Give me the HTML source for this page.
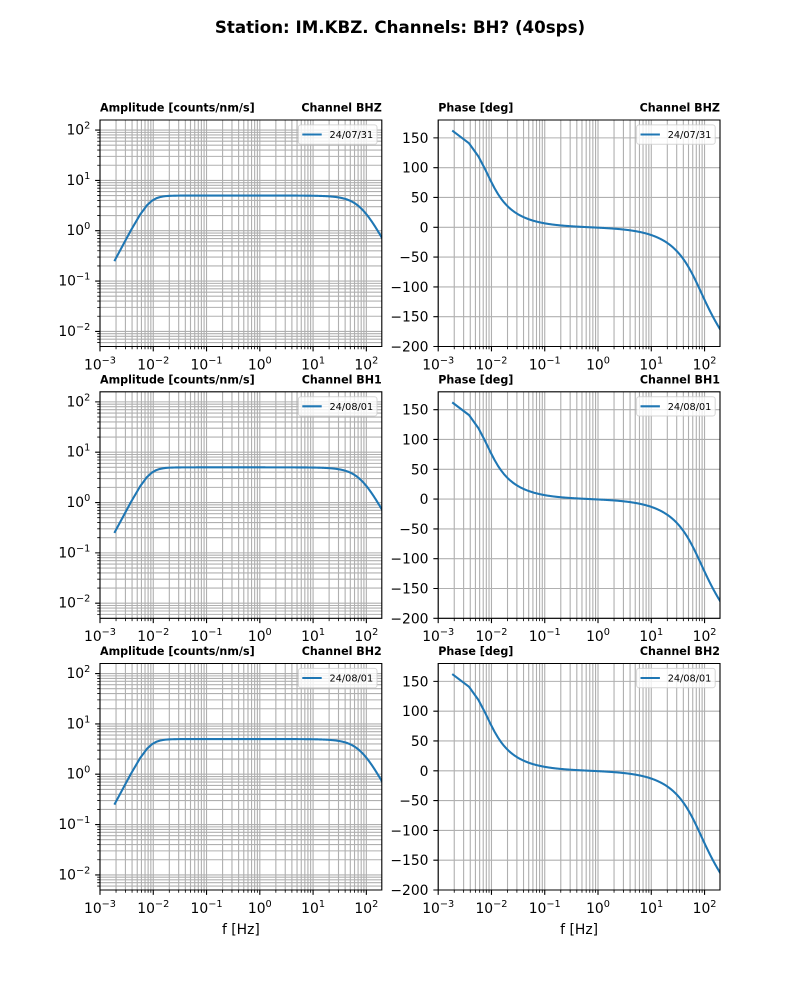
<!DOCTYPE html>
<html><head><meta charset="utf-8">
<style>
html,body{margin:0;padding:0;background:#fff;}
svg{display:block;}
text{font-family:"DejaVu Sans","Liberation Sans",sans-serif;fill:#000;}
.t{font-size:13.89px;}
.b{font-weight:bold;font-size:11.11px;}
.lg{font-size:9.72px;}
</style></head><body>
<svg id="fig" xmlns="http://www.w3.org/2000/svg" width="800" height="1000" viewBox="0 0 800 1000">
<rect width="800" height="1000" fill="#fff"/>
<defs id="defs"></defs>
<g id="grid"></g>
<g id="curves"></g>
<g id="axes"></g>
<text x="400" y="33" text-anchor="middle" font-weight="bold" font-size="16.67">Station: IM.KBZ. Channels: BH? (40sps)</text>

<!-- ROW 1 -->
<g transform="translate(0,0)">
<rect x="298.4" y="124.9" width="78.6" height="19.3" rx="2.5" fill="#fff" fill-opacity="0.8" stroke="#ccc" stroke-opacity="0.8" stroke-width="1"/>
<line x1="302.3" y1="134.5" x2="321.7" y2="134.5" stroke="#1f77b4" stroke-width="2.08"/>
<text class="lg" x="329.5" y="138">24/07/31</text>
<rect x="636.6" y="124.9" width="78.6" height="19.3" rx="2.5" fill="#fff" fill-opacity="0.8" stroke="#ccc" stroke-opacity="0.8" stroke-width="1"/>
<line x1="640.5" y1="134.5" x2="659.9" y2="134.5" stroke="#1f77b4" stroke-width="2.08"/>
<text class="lg" x="667.7" y="138">24/07/31</text>
<text class="b" x="100" y="111.7">Amplitude [counts/nm/s]</text>
<text class="b" x="381.8" y="111.7" text-anchor="end">Channel BHZ</text>
<text class="b" x="438.2" y="111.7">Phase [deg]</text>
<text class="b" x="720" y="111.7" text-anchor="end">Channel BHZ</text>
<g class="t" text-anchor="end">
<text x="90.3" y="134.6">10<tspan dy="-6" font-size="9.72">2</tspan></text>
<text x="90.3" y="184.9">10<tspan dy="-6" font-size="9.72">1</tspan></text>
<text x="90.3" y="235.2">10<tspan dy="-6" font-size="9.72">0</tspan></text>
<text x="90.3" y="285.6">10<tspan dy="-6" font-size="9.72">−1</tspan></text>
<text x="90.3" y="335.9">10<tspan dy="-6" font-size="9.72">−2</tspan></text>
<text x="428.5" y="142.9">150</text>
<text x="428.5" y="172.7">100</text>
<text x="428.5" y="202.5">50</text>
<text x="428.5" y="232.3">0</text>
<text x="428.5" y="262.1">−50</text>
<text x="428.5" y="291.9">−100</text>
<text x="428.5" y="321.7">−150</text>
<text x="428.5" y="351.5">−200</text>
</g>
<g class="t" text-anchor="middle">
<text x="100" y="369.3">10<tspan dy="-6" font-size="9.72">−3</tspan></text>
<text x="153.27" y="369.3">10<tspan dy="-6" font-size="9.72">−2</tspan></text>
<text x="206.54" y="369.3">10<tspan dy="-6" font-size="9.72">−1</tspan></text>
<text x="259.81" y="369.3">10<tspan dy="-6" font-size="9.72">0</tspan></text>
<text x="313.08" y="369.3">10<tspan dy="-6" font-size="9.72">1</tspan></text>
<text x="366.35" y="369.3">10<tspan dy="-6" font-size="9.72">2</tspan></text>
<text x="438.2" y="369.3">10<tspan dy="-6" font-size="9.72">−3</tspan></text>
<text x="491.47" y="369.3">10<tspan dy="-6" font-size="9.72">−2</tspan></text>
<text x="544.74" y="369.3">10<tspan dy="-6" font-size="9.72">−1</tspan></text>
<text x="598.01" y="369.3">10<tspan dy="-6" font-size="9.72">0</tspan></text>
<text x="651.28" y="369.3">10<tspan dy="-6" font-size="9.72">1</tspan></text>
<text x="704.55" y="369.3">10<tspan dy="-6" font-size="9.72">2</tspan></text>
</g>
</g>

<!-- ROW 2 -->
<g transform="translate(0,271.8)">
<rect x="298.4" y="124.9" width="78.6" height="19.3" rx="2.5" fill="#fff" fill-opacity="0.8" stroke="#ccc" stroke-opacity="0.8" stroke-width="1"/>
<line x1="302.3" y1="134.5" x2="321.7" y2="134.5" stroke="#1f77b4" stroke-width="2.08"/>
<text class="lg" x="329.5" y="138">24/08/01</text>
<rect x="636.6" y="124.9" width="78.6" height="19.3" rx="2.5" fill="#fff" fill-opacity="0.8" stroke="#ccc" stroke-opacity="0.8" stroke-width="1"/>
<line x1="640.5" y1="134.5" x2="659.9" y2="134.5" stroke="#1f77b4" stroke-width="2.08"/>
<text class="lg" x="667.7" y="138">24/08/01</text>
<text class="b" x="100" y="111.7">Amplitude [counts/nm/s]</text>
<text class="b" x="381.8" y="111.7" text-anchor="end">Channel BH1</text>
<text class="b" x="438.2" y="111.7">Phase [deg]</text>
<text class="b" x="720" y="111.7" text-anchor="end">Channel BH1</text>
<g class="t" text-anchor="end">
<text x="90.3" y="134.6">10<tspan dy="-6" font-size="9.72">2</tspan></text>
<text x="90.3" y="184.9">10<tspan dy="-6" font-size="9.72">1</tspan></text>
<text x="90.3" y="235.2">10<tspan dy="-6" font-size="9.72">0</tspan></text>
<text x="90.3" y="285.6">10<tspan dy="-6" font-size="9.72">−1</tspan></text>
<text x="90.3" y="335.9">10<tspan dy="-6" font-size="9.72">−2</tspan></text>
<text x="428.5" y="142.9">150</text>
<text x="428.5" y="172.7">100</text>
<text x="428.5" y="202.5">50</text>
<text x="428.5" y="232.3">0</text>
<text x="428.5" y="262.1">−50</text>
<text x="428.5" y="291.9">−100</text>
<text x="428.5" y="321.7">−150</text>
<text x="428.5" y="351.5">−200</text>
</g>
<g class="t" text-anchor="middle">
<text x="100" y="369.3">10<tspan dy="-6" font-size="9.72">−3</tspan></text>
<text x="153.27" y="369.3">10<tspan dy="-6" font-size="9.72">−2</tspan></text>
<text x="206.54" y="369.3">10<tspan dy="-6" font-size="9.72">−1</tspan></text>
<text x="259.81" y="369.3">10<tspan dy="-6" font-size="9.72">0</tspan></text>
<text x="313.08" y="369.3">10<tspan dy="-6" font-size="9.72">1</tspan></text>
<text x="366.35" y="369.3">10<tspan dy="-6" font-size="9.72">2</tspan></text>
<text x="438.2" y="369.3">10<tspan dy="-6" font-size="9.72">−3</tspan></text>
<text x="491.47" y="369.3">10<tspan dy="-6" font-size="9.72">−2</tspan></text>
<text x="544.74" y="369.3">10<tspan dy="-6" font-size="9.72">−1</tspan></text>
<text x="598.01" y="369.3">10<tspan dy="-6" font-size="9.72">0</tspan></text>
<text x="651.28" y="369.3">10<tspan dy="-6" font-size="9.72">1</tspan></text>
<text x="704.55" y="369.3">10<tspan dy="-6" font-size="9.72">2</tspan></text>
</g>
</g>

<!-- ROW 3 -->
<g transform="translate(0,543.5)">
<rect x="298.4" y="124.9" width="78.6" height="19.3" rx="2.5" fill="#fff" fill-opacity="0.8" stroke="#ccc" stroke-opacity="0.8" stroke-width="1"/>
<line x1="302.3" y1="134.5" x2="321.7" y2="134.5" stroke="#1f77b4" stroke-width="2.08"/>
<text class="lg" x="329.5" y="138">24/08/01</text>
<rect x="636.6" y="124.9" width="78.6" height="19.3" rx="2.5" fill="#fff" fill-opacity="0.8" stroke="#ccc" stroke-opacity="0.8" stroke-width="1"/>
<line x1="640.5" y1="134.5" x2="659.9" y2="134.5" stroke="#1f77b4" stroke-width="2.08"/>
<text class="lg" x="667.7" y="138">24/08/01</text>
<text class="b" x="100" y="111.7">Amplitude [counts/nm/s]</text>
<text class="b" x="381.8" y="111.7" text-anchor="end">Channel BH2</text>
<text class="b" x="438.2" y="111.7">Phase [deg]</text>
<text class="b" x="720" y="111.7" text-anchor="end">Channel BH2</text>
<g class="t" text-anchor="end">
<text x="90.3" y="134.6">10<tspan dy="-6" font-size="9.72">2</tspan></text>
<text x="90.3" y="184.9">10<tspan dy="-6" font-size="9.72">1</tspan></text>
<text x="90.3" y="235.2">10<tspan dy="-6" font-size="9.72">0</tspan></text>
<text x="90.3" y="285.6">10<tspan dy="-6" font-size="9.72">−1</tspan></text>
<text x="90.3" y="335.9">10<tspan dy="-6" font-size="9.72">−2</tspan></text>
<text x="428.5" y="142.9">150</text>
<text x="428.5" y="172.7">100</text>
<text x="428.5" y="202.5">50</text>
<text x="428.5" y="232.3">0</text>
<text x="428.5" y="262.1">−50</text>
<text x="428.5" y="291.9">−100</text>
<text x="428.5" y="321.7">−150</text>
<text x="428.5" y="351.5">−200</text>
</g>
<g class="t" text-anchor="middle">
<text x="100" y="369.3">10<tspan dy="-6" font-size="9.72">−3</tspan></text>
<text x="153.27" y="369.3">10<tspan dy="-6" font-size="9.72">−2</tspan></text>
<text x="206.54" y="369.3">10<tspan dy="-6" font-size="9.72">−1</tspan></text>
<text x="259.81" y="369.3">10<tspan dy="-6" font-size="9.72">0</tspan></text>
<text x="313.08" y="369.3">10<tspan dy="-6" font-size="9.72">1</tspan></text>
<text x="366.35" y="369.3">10<tspan dy="-6" font-size="9.72">2</tspan></text>
<text x="438.2" y="369.3">10<tspan dy="-6" font-size="9.72">−3</tspan></text>
<text x="491.47" y="369.3">10<tspan dy="-6" font-size="9.72">−2</tspan></text>
<text x="544.74" y="369.3">10<tspan dy="-6" font-size="9.72">−1</tspan></text>
<text x="598.01" y="369.3">10<tspan dy="-6" font-size="9.72">0</tspan></text>
<text x="651.28" y="369.3">10<tspan dy="-6" font-size="9.72">1</tspan></text>
<text x="704.55" y="369.3">10<tspan dy="-6" font-size="9.72">2</tspan></text>
</g>
<text class="t" x="240.9" y="390.5" text-anchor="middle">f [Hz]</text>
<text class="t" x="579.1" y="390.5" text-anchor="middle">f [Hz]</text>
</g>
</svg>
<script>
(function(){
var NS='http://www.w3.org/2000/svg';
var DEC=53.27, W=281.8, H=226.5;
var L=[100,438.2], T=[120,391.8,663.5];
var LMAX=-3+W/DEC;
function mk(tag,a,p){var e=document.createElementNS(NS,tag);for(var k in a)e.setAttribute(k,a[k]);p.appendChild(e);return e;}
var grid=document.getElementById('grid'),cur=document.getElementById('curves'),ax=document.getElementById('axes'),defs=document.getElementById('defs');
var gd='',tk1='',tk2='',sp='';
function yp(t,p){return t+(180-p)*H/380;}
function ya(t,a){return t+(2.2-Math.log10(a))*H/4.5;}
// frequencies
var df=0.0019,F=[];
for(var k=1;k*df<0.05;k++)F.push(k*df);
var l0=Math.log10(0.05);
for(var i=1;i<=500;i++)F.push(Math.pow(10,l0+(LMAX+0.02-l0)*i/500));
var D=180/Math.PI;
function amp(f){var r=f*120,h=0.707;var hp=r*r/Math.hypot(1-r*r,2*h*r);var R=f/78,h2=0.88;var lp=1/Math.hypot(1-R*R,2*h2*R);return 5*hp*lp;}
function ph(f){var r=f*120,h=0.707;var p=180-Math.atan2(2*h*r,1-r*r)*D;var R=f/80;p-=Math.atan2(2*0.8*R,1-R*R)*D;p-=Math.atan(f/350)*D;return p;}
var cid=0;
for(var ri=0;ri<3;ri++){var t=T[ri];
 for(var c=0;c<2;c++){var x0=L[c];
  for(var n=-3;n<=2;n++)for(var kk=1;kk<=9;kk++){var lf=n+Math.log10(kk);if(lf<-3-1e-9||lf>LMAX+1e-9)continue;var x=x0+(lf+3)*DEC;
   gd+='M'+x.toFixed(2)+' '+t+'V'+(t+H);
   if(kk===1)tk1+='M'+x.toFixed(2)+' '+(t+H)+'v4.86';else tk2+='M'+x.toFixed(2)+' '+(t+H)+'v2.78';}
  if(c===0){
   for(var n2=-3;n2<=2;n2++)for(var k2=1;k2<=9;k2++){var la=n2+Math.log10(k2);if(la<-2.3-1e-9||la>2.2+1e-9)continue;var y=t+(2.2-la)*H/4.5;
    gd+='M'+x0+' '+y.toFixed(2)+'H'+(x0+W);
    if(k2===1)tk1+='M'+x0+' '+y.toFixed(2)+'h-4.86';else tk2+='M'+x0+' '+y.toFixed(2)+'h-2.78';}
  }else{
   for(var p=-200;p<=150;p+=50){var y2=yp(t,p);gd+='M'+x0+' '+y2.toFixed(2)+'H'+(x0+W);tk1+='M'+x0+' '+y2.toFixed(2)+'h-4.86';}
  }
  sp+='M'+x0+' '+t+'h'+W+'v'+H+'h'+(-W)+'Z';
  // clip
  var id='cp'+(cid++);
  var cp=mk('clipPath',{id:id},defs);mk('rect',{x:x0,y:t,width:W,height:H},cp);
  var d='';
  for(var j=0;j<F.length;j++){var f=F[j];var xx=x0+(Math.log10(f)+3)*DEC;var yy=(c===0)?ya(t,amp(f)):yp(t,ph(f));d+=(j?'L':'M')+xx.toFixed(2)+' '+yy.toFixed(2);}
  mk('path',{d:d,fill:'none',stroke:'#1f77b4','stroke-width':2.08,'stroke-linejoin':'round','stroke-linecap':'square','clip-path':'url(#'+id+')'},cur);
 }}
mk('path',{d:gd,stroke:'#b0b0b0','stroke-width':1.11,fill:'none'},grid);
mk('path',{d:sp,stroke:'#000','stroke-width':1.11,fill:'none','stroke-linejoin':'miter'},ax);
mk('path',{d:tk1,stroke:'#000','stroke-width':1.11,fill:'none'},ax);
mk('path',{d:tk2,stroke:'#000','stroke-width':0.83,fill:'none'},ax);
})();
</script>
</body></html>
